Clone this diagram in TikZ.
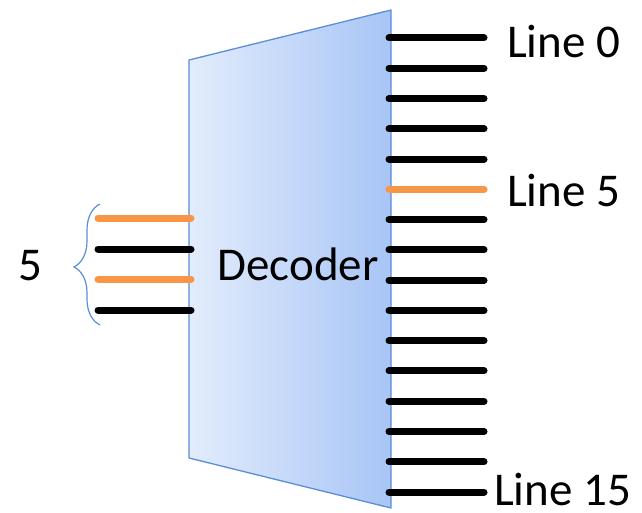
\documentclass[tikz,border=0pt]{standalone}
\usepackage{fontspec}
\setmainfont{Carlito}
\usetikzlibrary{decorations.pathreplacing}
\definecolor{borderblue}{HTML}{5B8ED6}
\definecolor{fillL}{HTML}{E2ECFC}
\definecolor{fillR}{HTML}{A8C5F6}
\definecolor{wireorange}{HTML}{F79646}
\tikzset{
  wire/.style={line width=7pt, line cap=round, black},
  owire/.style={wire, wireorange},
  lbl/.style={font=\fontsize{47}{50}\selectfont, inner sep=0pt},
}
\begin{document}
\begin{tikzpicture}[x=1pt,y=-1pt]
\useasboundingbox (0,0) rectangle (642,513);
% decoder body
\coordinate (tl) at (189,60);
\coordinate (tr) at (391,10);
\coordinate (br) at (391,508);
\coordinate (bl) at (189,458);
\shade[left color=fillL, right color=fillR] (tl) -- (tr) -- (br) -- (bl) -- cycle;
\draw[borderblue, line width=1.3pt, line join=round] (tl) -- (tr) -- (br) -- (bl) -- cycle;
\node[lbl] (dec) at (298,264) {Decoder};
% output wires
\foreach \i in {0,...,15}{
  \pgfmathsetmacro{\yy}{38+\i*30.27}
  \coordinate (o\i a) at (389,\yy);
  \coordinate (o\i b) at (484,\yy);
}
\foreach \i in {0,1,2,3,4,6,7,8,9,10,11,12,13,14,15}{
  \draw[wire] (o\i a) -- (o\i b);
}
\draw[owire] (o5a) -- (o5b);
\node[lbl, anchor=west] (l0) at (507,41) {Line 0};
\node[lbl, anchor=west] (l5) at (507,190) {Line 5};
\node[lbl, anchor=west] (l15) at (494,489) {Line 15};
% input wires
\coordinate (i0a) at (98,218); \coordinate (i0b) at (191,218);
\coordinate (i1a) at (98,249); \coordinate (i1b) at (191,249);
\coordinate (i2a) at (98,279); \coordinate (i2b) at (191,279);
\coordinate (i3a) at (98,310); \coordinate (i3b) at (191,310);
\draw[owire] (i0a) -- (i0b);
\draw[wire] (i1a) -- (i1b);
\draw[owire] (i2a) -- (i2b);
\draw[wire] (i3a) -- (i3b);
% brace
\coordinate (bt) at (100,204);
\coordinate (bb) at (100,325);
\draw[borderblue, line width=1.2pt, decorate, decoration={brace, amplitude=26pt, aspect=0.48}] (bb) -- (bt);
\node[lbl] (five) at (30,266) {5};
\end{tikzpicture}
\end{document}
